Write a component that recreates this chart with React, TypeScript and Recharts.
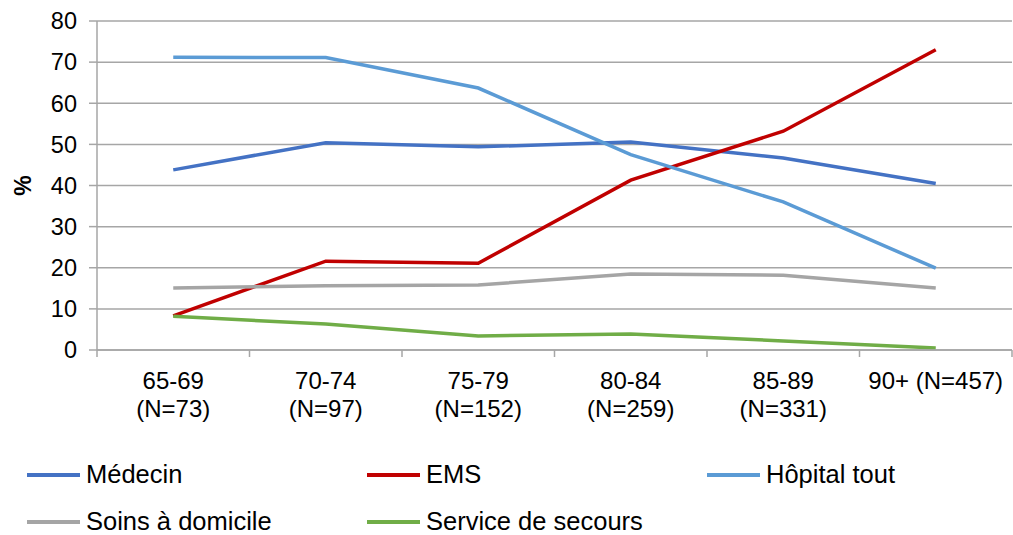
import { LineChart, Line, XAxis, YAxis, CartesianGrid, Legend } from 'recharts';

const categories = ['65-69\n(N=73)', '70-74\n(N=97)', '75-79\n(N=152)', '80-84\n(N=259)', '85-89\n(N=331)', '90+ (N=457)'];
const medecin = [43.8, 50.4, 49.4, 50.6, 46.7, 40.5];
const ems = [8.3, 21.6, 21.1, 41.3, 53.2, 73.0];
const hopital = [71.2, 71.1, 63.7, 47.5, 36.0, 19.9];
const soins = [15.1, 15.6, 15.8, 18.5, 18.2, 15.1];
const secours = [8.2, 6.3, 3.4, 3.9, 2.2, 0.5];
const yTicks = [0, 10, 20, 30, 40, 50, 60, 70, 80];

const series = [
  { key: 'medecin', name: 'Médecin', color: '#4472C4' },
  { key: 'ems', name: 'EMS', color: '#C00000' },
  { key: 'hopital', name: 'Hôpital tout', color: '#5B9BD5' },
  { key: 'soins', name: 'Soins à domicile', color: '#A5A5A5' },
  { key: 'secours', name: 'Service de secours', color: '#70AD47' },
];

const data = categories.map((cat, i) => ({
  cat,
  medecin: medecin[i],
  ems: ems[i],
  hopital: hopital[i],
  soins: soins[i],
  secours: secours[i],
}));

const FONT = 'Arial, "Liberation Sans", sans-serif';
const GRID = '#A6A6A6';

// two-line category label, plus tick marks on the band edges (Excel style)
const CategoryTick = ({ x, y, payload, index, visibleTicksCount }: any) => {
  const lines = String(payload.value).split('\n');
  const half = payload.offset || 0;
  const axisY = y - 22;
  const isLast = index === visibleTicksCount - 1;
  return (
    <g>
      <line x1={x - half} x2={x - half} y1={axisY} y2={axisY + 7} stroke={GRID} strokeWidth={1.5} />
      {isLast && <line x1={x + half} x2={x + half} y1={axisY} y2={axisY + 7} stroke={GRID} strokeWidth={1.5} />}
      <text x={x} y={y} textAnchor="middle" fill="#000" fontSize={24} fontFamily={FONT}>
        {lines.map((line, i) => (
          <tspan key={i} x={x} dy={i === 0 ? '0.72em' : 27.5}>{line}</tspan>
        ))}
      </text>
    </g>
  );
};

const LegendContent = () => (
  <div style={{
    display: 'grid',
    gridTemplateColumns: '340px 340px 333px',
    gridAutoRows: '47px',
    height: 84,
    paddingLeft: 27,
    fontFamily: FONT,
    fontSize: 25.5,
    color: '#000',
    boxSizing: 'border-box',
  }}>
    {series.map((s) => (
      <div key={s.key} style={{ display: 'flex', alignItems: 'center', height: 47 }}>
        <span style={{ display: 'inline-block', width: 53, height: 4, backgroundColor: s.color, marginRight: 6 }} />
        <span>{s.name}</span>
      </div>
    ))}
  </div>
);

const App = () => {
  return (
    <div style={{ position: 'absolute', left: 0, top: 0, background: '#fff' }}>
      <LineChart width={1013} height={535} data={data} margin={{ top: 21, right: 1, left: 0, bottom: 0 }}>
        <CartesianGrid vertical={false} stroke={GRID} strokeWidth={1.5} />
        <XAxis
          dataKey="cat"
          scale="band"
          interval={0}
          height={101}
          axisLine={{ stroke: GRID, strokeWidth: 1.5 }}
          tickLine={false}
          tickSize={0}
          tickMargin={22}
          tick={<CategoryTick />}
        />
        <YAxis
          width={97}
          domain={[0, 80]}
          ticks={yTicks}
          interval={0}
          axisLine={{ stroke: GRID, strokeWidth: 1.5 }}
          tickLine={{ stroke: GRID, strokeWidth: 1.5 }}
          tickSize={8}
          tickMargin={12}
          tick={{ fill: '#000', fontSize: 23.5, fontFamily: FONT }}
          label={{ value: '%', angle: -90, position: 'center', dx: -26, fill: '#000', fontSize: 23, fontWeight: 'bold', fontFamily: FONT }}
        />
        <Legend verticalAlign="bottom" content={<LegendContent />} />
        {series.map((s) => (
          <Line
            key={s.key}
            type="linear"
            dataKey={s.key}
            name={s.name}
            stroke={s.color}
            strokeWidth={3.5}
            dot={false}
            activeDot={false}
            isAnimationActive={false}
          />
        ))}
      </LineChart>
    </div>
  );
};

export default App;
